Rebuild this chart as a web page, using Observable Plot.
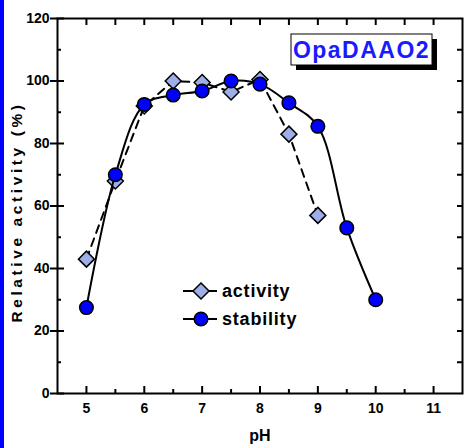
<!DOCTYPE html>
<html><head><meta charset="utf-8">
<script src="https://cdn.jsdelivr.net/npm/d3@7"></script>
<script src="https://cdn.jsdelivr.net/npm/@observablehq/plot@0.6"></script>
<style>
body{margin:0;background:#fff}
#wrap{position:relative;width:464px;height:448px;overflow:hidden;background:#fff}
#bar{position:absolute;left:0;top:0;width:4px;height:448px;background:#0000ff}
</style></head><body><div id="wrap"></div>
<script>
// ---- data ----
const activityPH = [5, 5.5, 6, 6.5, 7, 7.5, 8, 8.5, 9];
const activity   = [43, 68, 92, 100, 99.5, 96.5, 100.5, 83, 57];
const stabilityPH = [5, 5.5, 6, 6.5, 7, 7.5, 8, 8.5, 9, 9.5, 10];
const stability   = [27.5, 70, 92.5, 95.5, 96.8, 100, 99, 93, 85.5, 53, 30];
const xTicks = [5, 6, 7, 8, 9, 10, 11];
const xMinor = [5.5, 6.5, 7.5, 8.5, 9.5, 10.5];
const yTicks = [0, 20, 40, 60, 80, 100, 120];
const yMinor = [10, 30, 50, 70, 90, 110];
const seriesNames = ["activity", "stability"];
const xLabel = "pH";
const yLabel = "Relative activity (%)";
const title = "OpaDAAO2";

const act = activityPH.map((x, i) => ({pH: x, value: activity[i]}));
const stab = stabilityPH.map((x, i) => ({pH: x, value: stability[i]}));
const xAll = [...xTicks, ...xMinor];
const yAll = [...yTicks.slice(1, -1), ...yMinor];

const font = "'Liberation Sans', Arial, sans-serif";
const plot = Plot.plot({
  width: 464, height: 448,
  marginLeft: 57, marginRight: 2, marginTop: 18, marginBottom: 55,
  style: {fontFamily: font, fontSize: "14px", fontWeight: "bold", color: "black", background: "white", overflow: "visible"},
  x: {domain: [4.5, 11.5]},
  y: {domain: [0, 120]},
  marks: [
    Plot.axisX(xTicks, {anchor: "bottom", tickSize: -7, tickPadding: 17, label: null, strokeWidth: 2}),
    Plot.axisX(xMinor, {anchor: "bottom", tickSize: -4, tickFormat: () => "", label: null, strokeWidth: 2}),
    Plot.axisX(xAll, {anchor: "top", tickSize: -6, tickFormat: () => "", label: null, strokeWidth: 2}),
    Plot.axisY(yTicks, {anchor: "left", tickSize: 7, tickPadding: 1, label: null, strokeWidth: 2}),
    Plot.axisY(yTicks, {anchor: "left", tickSize: -7, tickFormat: () => "", label: null, strokeWidth: 2}),
    Plot.axisY(yMinor, {anchor: "left", tickSize: -4, tickFormat: () => "", label: null, strokeWidth: 2}),
    Plot.axisY(yAll, {anchor: "right", tickSize: -6, tickFormat: () => "", label: null, strokeWidth: 2}),
    Plot.frame({stroke: "black", strokeWidth: 2}),
    Plot.text([xLabel], {text: d => d, frameAnchor: "bottom", dy: 47, fontSize: 16, fontWeight: "bold"}),
    Plot.line(act, {x: "pH", y: "value", stroke: "black", strokeWidth: 2, strokeDasharray: "8,6"}),
    Plot.dot(act, {x: "pH", y: "value", symbol: "diamond2", r: 7.2, fill: "#9DAEE8", stroke: "black", strokeWidth: 1.5}),
    Plot.line(stab, {x: "pH", y: "value", stroke: "black", strokeWidth: 2, curve: "catmull-rom"}),
    Plot.dot(stab, {x: "pH", y: "value", r: 6.8, fill: "#0000ff", stroke: "black", strokeWidth: 1.5})
  ]
});
const wrap = document.getElementById("wrap");
wrap.appendChild(plot);
const bar = document.createElement("div"); bar.id = "bar"; wrap.appendChild(bar);

const svg = d3.select(plot);

// y-axis label
svg.append("text").attr("transform", "translate(22,212) rotate(-90)")
  .attr("text-anchor", "middle").attr("font-family", font).attr("font-weight", "bold")
  .attr("font-size", 15.5).style("letter-spacing", "3.6px").attr("fill", "black").text(yLabel);

// title box
const tg = svg.append("g");
tg.append("rect").attr("x", 296).attr("y", 39).attr("width", 141).attr("height", 31).attr("fill", "black");
tg.append("rect").attr("x", 291).attr("y", 34).attr("width", 141).attr("height", 31).attr("fill", "white").attr("stroke", "black").attr("stroke-width", 1);
tg.append("text").attr("x", 361.5).attr("y", 58).attr("text-anchor", "middle")
  .attr("font-family", font).attr("font-weight", "bold").attr("font-size", 23)
  .style("letter-spacing", "1.5px").attr("fill", "#1a1aff").text(title);

// legend
const lg = svg.append("g");
seriesNames.forEach((name, i) => {
  const cy = 291 + i * 28;
  lg.append("line").attr("x1", 183).attr("x2", 217).attr("y1", cy).attr("y2", cy).attr("stroke", "black").attr("stroke-width", 2);
  if (i === 0) {
    const h = 8;
    lg.append("path").attr("d", `M${201},${cy - h}L${201 + h},${cy}L${201},${cy + h}L${201 - h},${cy}Z`)
      .attr("fill", "#9DAEE8").attr("stroke", "black").attr("stroke-width", 1.5);
  } else {
    lg.append("circle").attr("cx", 201).attr("cy", cy).attr("r", 6.8).attr("fill", "#0000ff").attr("stroke", "black").attr("stroke-width", 1.5);
  }
  lg.append("text").attr("x", 222).attr("y", cy + 6).attr("text-anchor", "start").attr("font-family", font).attr("font-weight", "bold")
    .attr("font-size", 18).style("letter-spacing", "0.8px").attr("fill", "black").text(name);
});
</script></body></html>
